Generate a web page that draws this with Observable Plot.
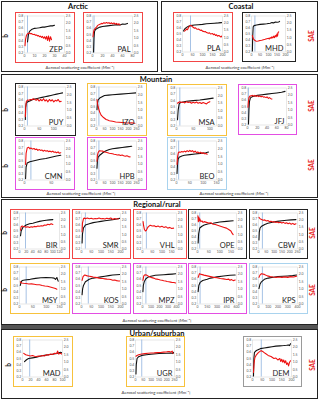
<!DOCTYPE html>
<html><head><meta charset="utf-8">
<script src="https://cdn.jsdelivr.net/npm/d3@7"></script>
<script src="https://cdn.jsdelivr.net/npm/@observablehq/plot@0.6"></script>
<style>
body{margin:0;background:#fff;font-family:Lato,"Open Sans",sans-serif;}
#root{position:relative;width:320px;height:401px;overflow:hidden;background:#fff;}
.box{position:absolute;border:1.5px solid #222;box-sizing:border-box;}
.sep{position:absolute;background:#555;}
.title{position:absolute;font-weight:bold;font-size:7.5px;transform:translate(-50%,-50%);white-space:nowrap;color:#111;}
.xl{position:absolute;font-size:4.3px;transform:translate(-50%,-50%);white-space:nowrap;color:#333;}
.yl{position:absolute;font-weight:bold;font-size:6.5px;transform:translate(-50%,-50%) rotate(-90deg);white-space:nowrap;color:#111;}
.yl.sae{color:#e81c1c;}
.panel{position:absolute;box-sizing:border-box;border:1.5px solid;background:#fff;}
.panel svg{display:block;}
</style></head><body><div id="root"></div>
<script>
// ---------- data ----------
const stations = ["ZEP","PAL","PLA","MHD","PUY","IZO","MSA","JFJ","CMN","HPB","BEO","BIR","SMR","VHL","OPE","CBW","MSY","KOS","MPZ","IPR","KPS","MAD","UGR","DEM"];
const leftTicks = [0.2,0.3,0.4,0.5,0.6,0.7,0.8];
const saeTicks = [0,0.5,1.0,1.5,2.0,2.5];
const xTicks = {
  ZEP:[0,10,20,30,40], PAL:[0,20,40,60,80], PLA:[0,50,100,150,200], MHD:[0,50,100,150,200],
  PUY:[0,50,100], IZO:[0,50,100,150,200,250], MSA:[0,50,100], JFJ:[0,20,40,60,80],
  CMN:[0,50], HPB:[0,50,100,150,200,250], BEO:[0,50,100,150],
  BIR:[0,20,40,60,80,100,120], SMR:[0,50,100,150,200], VHL:[0,50,100,150], OPE:[0,50,100,150], CBW:[0,50,100,150,200,250],
  MSY:[0,50,100,150], KOS:[0,50,100,150,200], MPZ:[0,100,200,300,400], IPR:[0,150,300,450,600], KPS:[0,100,200,300,400],
  MAD:[0,20,40,60,80,100], UGR:[0,50,100,150,200,250], DEM:[0,50,100,150,200]
};
const xMax = {PUY:140, MSA:120, CMN:75, VHL:175, OPE:175};
const blueLine = {ZEP:3,PAL:3,PLA:40,MHD:20,PUY:10,IZO:15,MSA:10,JFJ:2,CMN:12,HPB:15,BEO:8,BIR:18,SMR:20,VHL:20,OPE:10,CBW:25,MSY:25,KOS:35,MPZ:40,IPR:40,KPS:40,MAD:18,UGR:40,DEM:45};

const ZEP_b = [[3,0.38],[4,0.5],[5,0.55],[7,0.58],[10,0.6],[13,0.605],[15,0.61],[18,0.62],[20,0.62],[23,0.63],[26,0.64],[28,0.64],[30,0.65]];
const ZEP_sae = [[0.5,0.5],[1,0.9],[2,1.2],[3,1.3],[4,1.33],[5,1.35],[6,1.3],[7,1.32],[8,1.27],[9,1.25],[10,1.26],[11,1.2],[12,1.22],[13,1.15],[14,1.18],[15,1.1],[16,1.14],[17,1.05],[18,1.12],[19,1.0],[20,1.1],[21,0.95],[22,1.12],[23,0.85],[24,1.15],[25,0.8],[26,1.1],[27,0.9]];
const PAL_b = [[2,0.2],[3,0.45],[4,0.55],[6,0.58],[10,0.6],[15,0.62],[20,0.63],[30,0.64],[40,0.65],[50,0.66],[55,0.655],[60,0.67],[65,0.665],[70,0.68]];
const PAL_sae = [[1,1.1],[2,1.4],[3,1.55],[5,1.65],[8,1.75],[10,1.85],[12,1.9],[15,1.95],[18,2.0],[20,1.98],[23,2.05],[25,2.0],[28,2.06],[30,2.02],[33,2.05],[35,1.98],[38,2.04],[40,1.97],[43,2.03],[45,1.95],[48,2.0],[50,1.92],[53,1.97],[55,1.9]];
const PLA_b = [[5,0.55],[10,0.58],[20,0.61],[30,0.63],[40,0.64],[60,0.65],[80,0.655],[100,0.66],[120,0.67],[140,0.675],[160,0.68],[180,0.685],[195,0.69]];
const PLA_sae = [[10,1.45],[15,1.5],[20,1.6],[25,1.55],[30,1.7],[35,1.8],[40,1.85],[45,1.82],[50,1.75],[55,1.7],[60,1.65],[65,1.68],[70,1.6],[75,1.58],[80,1.6],[85,1.55],[90,1.5],[95,1.52],[100,1.45],[110,1.4],[115,1.42],[120,1.35],[130,1.3],[135,1.33],[140,1.25],[150,1.28],[155,1.2],[160,1.25],[165,1.15],[170,1.2],[175,1.1],[180,1.15],[185,1.12],[190,1.05],[195,1.1],[200,0.98]];
const MHD_b = [[5,0.2],[7,0.45],[10,0.62],[15,0.64],[30,0.65],[50,0.66],[70,0.665],[90,0.67],[110,0.68],[120,0.69],[130,0.685],[140,0.7],[150,0.695],[160,0.7],[165,0.71]];
const MHD_sae = [[5,1.15],[8,1.0],[12,0.9],[18,0.82],[25,0.77],[30,0.75],[40,0.76],[50,0.8],[60,0.82],[70,0.85],[80,0.88],[90,0.92],[100,0.95],[105,0.9],[110,1.0],[115,0.95],[120,1.05],[125,0.98],[130,1.1],[135,1.0],[140,1.15],[145,1.05],[150,1.25],[153,1.1],[156,1.35],[160,1.4]];
const PUY_b = [[3,0.3],[4,0.48],[6,0.55],[10,0.57],[20,0.59],[30,0.61],[40,0.62],[50,0.63],[60,0.64],[70,0.65],[80,0.66],[90,0.67],[100,0.68],[110,0.69],[120,0.7],[130,0.71]];
const PUY_sae = [[3,0.6],[4,1.2],[6,1.55],[10,1.67],[15,1.65],[20,1.7],[25,1.68],[30,1.75],[35,1.7],[40,1.65],[45,1.72],[50,1.6],[55,1.7],[60,1.62],[65,1.75],[70,1.6],[75,1.68],[80,1.55],[85,1.7],[90,1.6],[95,1.68],[100,1.55],[105,1.65],[110,1.6],[115,1.7],[120,1.55],[125,1.58]];
const IZO_b = [[3,0.45],[6,0.55],[10,0.6],[20,0.63],[35,0.65],[50,0.67],[75,0.675],[100,0.68],[150,0.69],[200,0.7],[250,0.71]];
const IZO_sae = [[3,1.7],[6,1.45],[10,1.25],[15,1.05],[20,0.9],[25,0.78],[30,0.68],[40,0.58],[50,0.5],[60,0.42],[70,0.38],[80,0.34],[100,0.3],[120,0.26],[140,0.24],[160,0.22],[180,0.2],[200,0.19],[220,0.2],[240,0.18]];
const MSA_b = [[3,0.3],[5,0.45],[8,0.55],[12,0.57],[20,0.58],[30,0.59],[50,0.6],[70,0.61],[90,0.625],[110,0.64]];
const MSA_sae = [[3,1.5],[6,1.55],[10,1.6],[15,1.55],[20,1.58],[25,1.52],[30,1.6],[35,1.55],[40,1.58],[45,1.5],[50,1.56],[55,1.52],[60,1.58],[65,1.5],[70,1.55],[75,1.48],[80,1.55],[85,1.5],[90,1.45],[95,1.55],[100,1.6]];
const JFJ_b = [[2,0.2],[3,0.45],[4,0.58],[6,0.64],[10,0.66],[15,0.67],[20,0.68],[30,0.69],[40,0.7],[50,0.71],[60,0.72],[70,0.73],[77,0.745]];
const JFJ_sae = [[1,1.2],[2,1.6],[3,1.85],[5,1.95],[8,1.98],[10,2.0],[13,1.95],[15,2.0],[18,1.93],[20,1.98],[23,1.92],[25,1.96],[28,1.9],[30,1.95],[33,1.88],[35,1.9],[38,1.85],[40,1.9],[43,1.8],[45,1.85],[48,1.78],[50,1.75]];
const CMN_b = [[2,0.22],[3,0.4],[5,0.46],[10,0.48],[20,0.5],[30,0.52],[40,0.53],[50,0.55],[60,0.57],[68,0.58]];
const CMN_sae = [[2,1.0],[3,1.7],[5,2.05],[8,2.1],[10,2.0],[12,2.05],[15,1.98],[18,2.02],[20,1.95],[23,1.98],[25,1.9],[28,1.95],[30,1.9],[33,1.92],[35,1.85],[38,1.9],[40,1.85],[43,1.88],[45,1.82],[48,1.85],[50,1.8],[53,1.85],[55,1.78],[58,1.8],[60,1.75],[63,1.8],[65,1.72],[68,1.75]];
const HPB_b = [[3,0.38],[6,0.5],[10,0.55],[20,0.58],[30,0.6],[45,0.63],[60,0.65],[80,0.67],[100,0.68],[130,0.69],[160,0.7],[190,0.71],[220,0.72]];
const HPB_sae = [[3,1.2],[6,1.6],[10,1.75],[15,1.85],[20,1.88],[30,1.86],[40,1.85],[50,1.8],[60,1.78],[70,1.75],[80,1.72],[90,1.7],[100,1.68],[110,1.65],[120,1.63],[130,1.6],[140,1.62],[150,1.57],[160,1.6],[170,1.55],[180,1.52],[190,1.55],[200,1.5],[210,1.48]];
const BEO_b = [[2,0.3],[4,0.45],[6,0.52],[10,0.55],[20,0.57],[30,0.58],[50,0.59],[70,0.6],[90,0.61],[110,0.62],[120,0.63]];
const BEO_sae = [[2,1.0],[4,1.5],[7,1.75],[10,1.8],[15,1.78],[20,1.82],[25,1.8],[30,1.85],[35,1.8],[40,1.88],[45,1.82],[50,1.9],[55,1.83],[60,1.88],[65,1.78],[70,1.85],[75,1.75],[80,1.8],[85,1.72],[90,1.78],[95,1.7],[100,1.75],[105,1.68],[110,1.7],[115,1.65]];
const BIR_b = [[3,0.42],[5,0.5],[10,0.56],[20,0.6],[30,0.62],[40,0.63],[50,0.645],[60,0.66],[70,0.67],[80,0.68],[90,0.685],[100,0.69]];
const BIR_sae = [[3,1.3],[5,1.55],[8,1.6],[10,1.58],[15,1.55],[20,1.52],[25,1.55],[30,1.5],[35,1.55],[40,1.52],[45,1.57],[50,1.55],[55,1.6],[60,1.58],[65,1.62],[70,1.6],[75,1.67],[80,1.65],[85,1.72],[90,1.68],[95,1.75],[100,1.7]];
const SMR_b = [[3,0.3],[5,0.45],[10,0.55],[20,0.6],[40,0.62],[60,0.64],[80,0.65],[100,0.66],[120,0.67],[140,0.68],[160,0.69],[180,0.7],[195,0.71]];
const SMR_sae = [[3,1.2],[5,1.8],[10,2.1],[15,2.15],[20,2.1],[30,2.15],[40,2.1],[50,2.13],[60,2.08],[70,2.12],[80,2.1],[90,2.15],[100,2.1],[110,2.12],[120,2.08],[130,2.14],[140,2.1],[150,2.15],[160,2.05],[170,2.12],[180,2.08],[190,2.1]];
const VHL_b = [];
const VHL_sae = [[3,1.9],[6,1.6],[10,1.35],[15,1.25],[20,1.3],[25,1.45],[30,1.55],[40,1.65],[50,1.6],[60,1.62],[70,1.55],[80,1.6],[90,1.52],[100,1.58],[110,1.5],[120,1.55],[130,1.45],[140,1.5],[150,1.42],[160,1.45]];
const OPE_b = [[3,0.3],[5,0.45],[10,0.55],[20,0.58],[30,0.6],[50,0.62],[70,0.63],[100,0.65],[130,0.66],[160,0.67]];
const OPE_sae = [[2,2.3],[4,1.9],[6,2.2],[8,1.95],[10,2.1],[15,1.9],[20,1.95],[25,1.85],[30,1.9],[40,1.85],[50,1.8],[60,1.82],[70,1.72],[80,1.7],[90,1.65],[100,1.6],[110,1.55],[120,1.5],[130,1.45],[140,1.35],[150,1.25],[155,1.1],[160,1.0]];
const CBW_b = [[3,0.35],[5,0.48],[10,0.55],[20,0.58],[40,0.61],[60,0.63],[90,0.645],[120,0.66],[150,0.67],[180,0.68],[210,0.685],[240,0.69]];
const CBW_sae = [[3,2.2],[10,2.1],[20,2.05],[30,2.0],[40,2.02],[50,1.95],[60,1.98],[70,1.9],[80,1.93],[90,1.88],[100,1.9],[110,1.85],[120,1.88],[130,1.82],[140,1.86],[150,1.8],[160,1.85],[170,1.78],[180,1.82],[190,1.75],[200,1.8],[210,1.72],[220,1.78],[230,1.7],[240,1.75]];
const MSY_b = [[3,0.5],[6,0.56],[10,0.58],[20,0.59],[40,0.6],[60,0.615],[80,0.625],[100,0.63],[120,0.625],[130,0.62],[135,0.6],[140,0.63],[145,0.57]];
const MSY_sae = [[3,1.5],[8,1.42],[15,1.4],[25,1.38],[35,1.35],[45,1.36],[55,1.33],[65,1.3],[75,1.3],[85,1.25],[95,1.22],[105,1.2],[115,1.15],[125,1.1],[135,1.05],[140,1.0]];
const KOS_b = [[3,0.35],[6,0.45],[10,0.5],[20,0.56],[40,0.6],[60,0.62],[80,0.63],[100,0.64],[120,0.65],[140,0.66],[160,0.67],[180,0.675],[200,0.68]];
const KOS_sae = [[3,1.6],[8,1.85],[15,1.95],[20,1.95],[30,1.9],[40,1.88],[50,1.85],[60,1.82],[70,1.8],[80,1.78],[90,1.75],[100,1.73],[110,1.72],[120,1.7],[130,1.68],[140,1.67],[150,1.65],[160,1.6],[170,1.62],[180,1.58],[190,1.55],[200,1.55]];
const MPZ_b = [[5,0.4],[10,0.5],[20,0.56],[40,0.61],[70,0.64],[100,0.65],[150,0.665],[200,0.67],[250,0.675],[300,0.68],[350,0.685],[390,0.69]];
const MPZ_sae = [[5,1.6],[15,1.9],[30,1.98],[50,1.95],[70,1.88],[90,1.82],[110,1.78],[130,1.75],[150,1.7],[170,1.68],[190,1.65],[210,1.62],[230,1.6],[250,1.57],[270,1.55],[290,1.52],[310,1.5],[330,1.48],[350,1.45],[370,1.45],[390,1.42]];
const IPR_b = [[10,0.4],[20,0.5],[40,0.55],[80,0.58],[150,0.6],[200,0.62],[300,0.64],[400,0.655],[500,0.665],[580,0.67]];
const IPR_sae = [[10,1.8],[30,2.05],[60,2.0],[100,1.95],[150,1.9],[200,1.85],[250,1.8],[300,1.78],[350,1.72],[400,1.7],[450,1.65],[480,1.68],[500,1.6],[520,1.65],[550,1.58],[580,1.62]];
const KPS_b = [[5,0.45],[15,0.52],[30,0.56],[60,0.6],[100,0.62],[150,0.635],[200,0.645],[250,0.65],[300,0.655],[350,0.66],[390,0.67]];
const KPS_sae = [[5,1.8],[15,1.95],[30,2.05],[60,2.0],[90,1.9],[120,1.85],[150,1.82],[180,1.8],[210,1.82],[240,1.8],[270,1.83],[300,1.8],[330,1.85],[360,1.82],[390,1.88]];
const MAD_b = [[5,0.45],[10,0.48],[15,0.5],[25,0.51],[35,0.52],[45,0.54],[55,0.55],[65,0.56],[75,0.57],[85,0.58],[95,0.6],[100,0.59]];
const MAD_sae = [[3,1.6],[8,1.5],[15,1.45],[20,1.42],[25,1.45],[30,1.4],[35,1.38],[40,1.42],[45,1.4],[50,1.45],[55,1.42],[60,1.5],[65,1.48],[70,1.55],[75,1.52],[80,1.6],[85,1.58],[88,1.75],[90,1.55],[95,1.6],[98,1.55]];
const UGR_b = [[3,0.25],[5,0.4],[10,0.5],[20,0.53],[40,0.55],[70,0.56],[100,0.57],[150,0.58],[200,0.585],[230,0.59],[240,0.58],[245,0.6]];
const UGR_sae = [[3,1.4],[10,1.45],[20,1.5],[40,1.55],[60,1.58],[80,1.6],[100,1.62],[120,1.63],[140,1.65],[160,1.66],[180,1.68],[200,1.7],[215,1.72],[225,1.68],[235,1.75],[240,1.6]];
const DEM_b = [[5,0.2],[7,0.5],[10,0.6],[20,0.63],[40,0.66],[60,0.67],[80,0.68],[100,0.69],[120,0.7],[140,0.705],[160,0.71],[175,0.715],[185,0.72],[190,0.71],[195,0.74]];
const DEM_sae = [[5,0.3],[8,0.9],[12,1.3],[20,1.5],[30,1.65],[40,1.75],[45,1.78],[55,1.7],[65,1.6],[80,1.46],[95,1.38],[110,1.25],[120,1.28],[130,1.15],[140,1.25],[145,1.05],[150,1.2],[155,1.0],[160,1.15],[165,0.95],[170,1.1],[175,0.85],[180,0.95],[185,0.75],[190,1.0],[195,1.1]];

const curves = {ZEP:[ZEP_b,ZEP_sae],PAL:[PAL_b,PAL_sae],PLA:[PLA_b,PLA_sae],MHD:[MHD_b,MHD_sae],PUY:[PUY_b,PUY_sae],IZO:[IZO_b,IZO_sae],MSA:[MSA_b,MSA_sae],JFJ:[JFJ_b,JFJ_sae],CMN:[CMN_b,CMN_sae],HPB:[HPB_b,HPB_sae],BEO:[BEO_b,BEO_sae],BIR:[BIR_b,BIR_sae],SMR:[SMR_b,SMR_sae],VHL:[VHL_b,VHL_sae],OPE:[OPE_b,OPE_sae],CBW:[CBW_b,CBW_sae],MSY:[MSY_b,MSY_sae],KOS:[KOS_b,KOS_sae],MPZ:[MPZ_b,MPZ_sae],IPR:[IPR_b,IPR_sae],KPS:[KPS_b,KPS_sae],MAD:[MAD_b,MAD_sae],UGR:[UGR_b,UGR_sae],DEM:[DEM_b,DEM_sae]};

// ---------- layout (positions & styles) ----------
const RED="#f24545", BLK="#222", YEL="#f7c23c", MAG="#e34ee3", LBL="#a9d3ee", GRY="#9a9a9a";
const panels = [
  ["ZEP",15,12,60,51,RED],["PAL",83,12,60,51,RED],["PLA",173,12,60,50,RED],["MHD",242,12,54,50,BLK],
  ["PUY",15,83,61,53,BLK],["IZO",87,83,60,53,YEL],["MSA",167,84,60,52,YEL],["JFJ",238,84,59,51,MAG],
  ["CMN",15,137,60,53,MAG],["HPB",87,137,60,53,MAG],["BEO",167,137,60,53,LBL],
  ["BIR",10,209,60,50,RED],["SMR",72,209,59,50,RED],["VHL",133,209,54,50,RED],["OPE",188,209,59,50,BLK],["CBW",249,209,59,50,BLK],
  ["MSY",10,263,60,51,YEL],["KOS",72,263,59,51,MAG],["MPZ",133,263,54,51,MAG],["IPR",188,263,59,51,MAG],["KPS",249,263,59,51,LBL],
  ["MAD",13,336,60,51,YEL],["UGR",126,336,59,51,YEL],["DEM",243,336,59,51,GRY]
];
const boxes = [[1,1,157,71],[161,1,157,71],[1,74,317,124],[1,199,317,126],[1,329,317,70]];
const titles = [["Arctic",78,6],["Coastal",241,6],["Mountain",156,79],["Regional/rural",157,204],["Urban/suburban",157,333]];
const XLAB = "Aerosol scattering coefficient [Mm\u207B\u00B9]";
const xlabels = [[80,67],[240,67],[81,193],[234,193],[157,320],[156,392]];
const bLabels = [[5,36],[5,110],[5,166],[4,233],[4,290],[8,365]];
const saeLabels = [[311,36],[311,106],[311,165],[312,233],[312,290],[312,365]];

const toB = s => 0.2 + s / 2.5 * 0.6;
const fromB = b => (b - 0.2) / 0.6 * 2.5;

const root = document.getElementById("root");
function add(cls, x, y, text, w, h) {
  const d = document.createElement("div");
  d.className = cls; d.style.left = x + "px"; d.style.top = y + "px";
  if (w != null) { d.style.width = w + "px"; d.style.height = h + "px"; }
  if (text != null) d.textContent = text;
  root.appendChild(d); return d;
}
boxes.forEach(([x,y,w,h]) => add("box", x, y, null, w, h));
add("sep", 1, 325, null, 317, 4);
titles.forEach(([t,x,y]) => add("title", x, y, t));
xlabels.forEach(([x,y]) => add("xl", x, y, XLAB));
bLabels.forEach(([x,y]) => add("yl", x, y, "b"));
saeLabels.forEach(([x,y]) => add("yl sae", x, y, "SAE"));

panels.forEach(([name, x, y, w, h, col]) => {
  const d = add("panel", x, y, null, w, h);
  d.style.borderColor = col;
  const [bData, sData] = curves[name];
  const ticks = xTicks[name];
  const max = xMax[name] ?? ticks[ticks.length - 1];
  const chart = Plot.plot({
    width: w - 3, height: h - 3,
    marginLeft: 8, marginRight: 9, marginTop: 2.5, marginBottom: 8.5,
    style: {fontSize: "3.4px", fontFamily: "Lato, sans-serif", color: "#555", background: "#fff", overflow: "visible"},
    x: {domain: [0, max]},
    y: {domain: [0.2, 0.8]},
    marks: [
      Plot.frame({stroke: "#cfcfcf", strokeWidth: 0.5}),
      Plot.ruleX([blueLine[name]], {stroke: "#8fb3de", strokeWidth: 0.8}),
      Plot.line(bData, {x: d => d[0], y: d => d[1], stroke: "#111", strokeWidth: 1.1, clip: true}),
      Plot.line(sData, {x: d => d[0], y: d => toB(d[1]), stroke: "#ee1111", strokeWidth: 1.1, clip: true}),
      Plot.axisY(leftTicks, {tickSize: 0, tickPadding: 1.2, tickFormat: d3.format(".1f"), label: null}),
      Plot.axisY(saeTicks.map(toB), {anchor: "right", tickSize: 0, tickPadding: 1.2, tickFormat: d => fromB(d).toFixed(1), label: null}),
      Plot.axisX(ticks, {tickSize: 0, tickPadding: 1.2, label: null}),
      Plot.text([name], {frameAnchor: "bottom-right", dx: -2, dy: -1.5, fontSize: 7.5, fill: "#222", fontFamily: "Lato, sans-serif"})
    ]
  });
  d.appendChild(chart);
});
</script></body></html>
